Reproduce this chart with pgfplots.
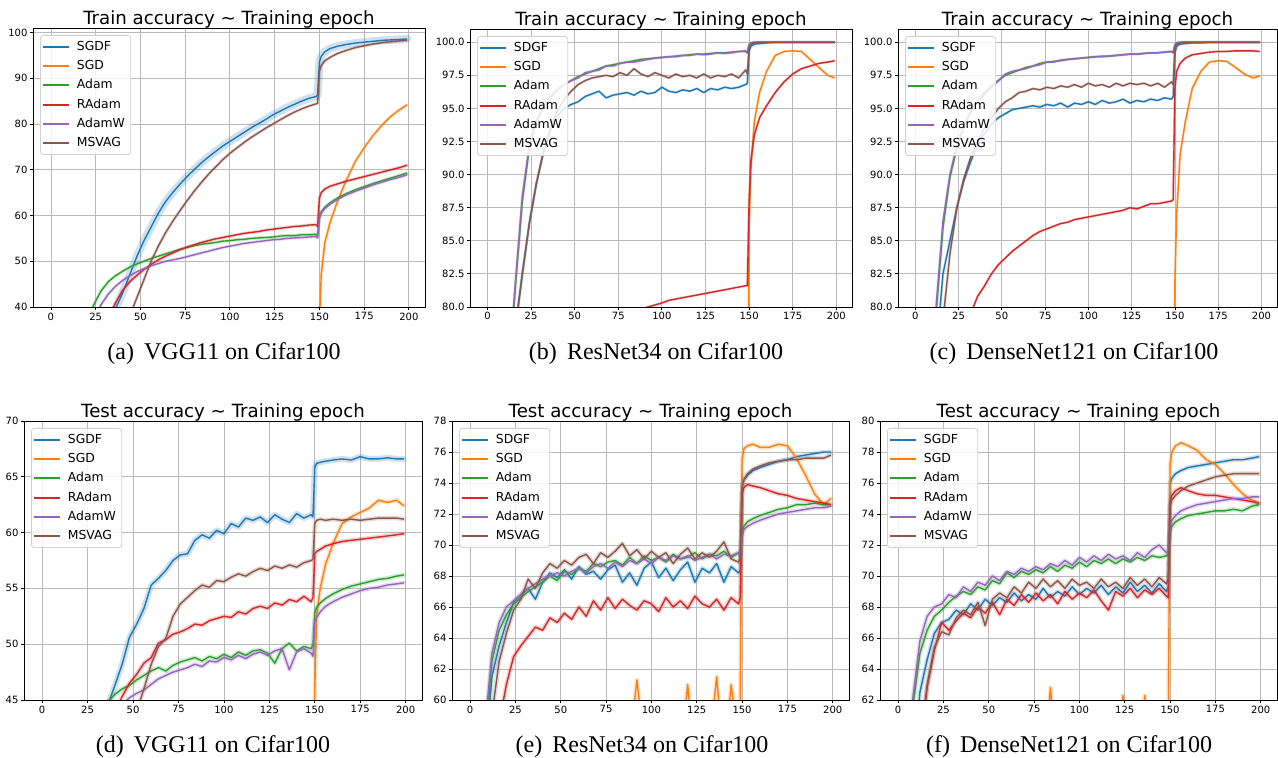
\documentclass[border=0pt]{standalone}
\usepackage{fontspec}
\setmainfont{DejaVu Sans}
\newfontfamily\capfont{Liberation Serif}
\usepackage{pgfplots}
\usepackage{pgfplotstable}
\pgfplotsset{compat=1.18}
\definecolor{cB}{HTML}{1F77B4}
\definecolor{cO}{HTML}{FF7F0E}
\definecolor{cG}{HTML}{2CA02C}
\definecolor{cR}{HTML}{D62728}
\definecolor{cP}{HTML}{9467BD}
\definecolor{cBr}{HTML}{8C564B}

\pgfplotstableread{
x sgdf sgd adam radam adamw msvag
0 5 20 10 10 10 3
4 8 20 15 13 14 6
8 11 20 20 16 18 9
12 14 20 26 19 23 12
16 18 20 31 22 28 15
20 22 20 36.5 26 33 18
24 26 20 40.5 29.5 37.5 21
28 31 20 43.5 33 40.5 24
32 35.5 20 45.5 37.5 42.8 27
36 39.5 20 46.8 40.8 44.5 30
40 43 20 47.8 43.6 45.8 34
44 47 20 48.7 45.5 46.8 38
48 51 20 49.4 46.9 47.7 42
52 54.5 20 50 48.2 48.4 46
56 57.5 20 50.6 49.3 49 50
60 60.5 20 51.1 50.3 49.5 53.3
64 63 20 51.6 51.1 50 56.2
68 65 20 52.1 51.8 50.3 58.7
72 66.8 20 52.6 52.5 50.6 61
76 68.5 20 53.0 53.1 51 63.2
80 70 20 53.4 53.6 51.4 65.3
84 71.5 20 53.7 54.1 51.8 67.2
88 72.8 20 53.9 54.5 52.2 69
92 74 20 54.1 54.9 52.6 70.6
96 75.2 20 54.4 55.2 53 72.2
100 76.2 20 54.5 55.5 53.3 73.6
104 77.2 20 54.7 55.8 53.6 74.8
108 78.2 20 54.8 56.1 53.9 76
112 79.2 20 55 56.3 54.1 77.1
116 80.1 20 55.1 56.5 54.3 78.1
120 81 20 55.2 56.8 54.5 79.1
124 82 20 55.3 57 54.7 80
128 82.8 20 55.5 57.2 54.8 80.9
132 83.6 20 55.6 57.4 55 81.8
136 84.3 20 55.6 57.6 55.1 82.6
140 85 20 55.8 57.7 55.2 83.3
144 85.6 20 55.8 57.9 55.3 83.9
148 86 20 55.9 58 55.4 84.4
149 86.3 20 55.6 57.6 55.1 84.5
150 93.5 36 59.5 63.8 59.3 91.5
151 94.8 47 60.8 65 60.5 92.8
153 95.8 54 61.8 65.8 61.5 93.8
156 96.5 58.5 62.8 66.4 62.5 94.6
160 97 63 63.8 66.9 63.5 95.4
165 97.4 67.7 64.8 67.5 64.5 96.1
170 97.7 71.8 65.6 68 65.3 96.7
175 97.9 74.8 66.3 68.5 66 97.1
180 98.1 77.5 67 69 66.7 97.5
185 98.3 79.8 67.6 69.5 67.3 97.8
190 98.4 81.7 68.2 70 67.9 98
195 98.5 83.2 68.8 70.5 68.4 98.2
199 98.6 84.2 69.3 71 68.9 98.3
}\tblA

\pgfplotstableread{
x sgdf sgd adam radam adamw msvag
0 30 10 30 30 30 30
4 45 10 45 35 46 45
8 60 10 62 40 63 60
12 72 10 74 45 75 72
16 78.5 10 81.5 50 81.8 78.2
20 82.5 10 88 55 88.4 82.5
24 86.3 10 92 58 92.2 86.3
28 89.3 10 94 61 94.1 89.3
32 91.6 10 95 64 95.1 91.7
36 93.3 10 95.8 66.5 95.9 93.5
40 94.4 10 96.4 69 96.4 94.8
44 95 10 96.8 71 96.8 95.7
48 95.3 10 97.1 73 97.1 96.3
52 95.5 10 97.4 74.5 97.3 96.8
56 95.9 10 97.6 75.7 97.7 97.1
60 96.1 10 97.8 76.7 97.8 97.3
64 96.3 10 98 77.5 97.9 97.4
68 95.8 10 98.2 78.1 98.2 97.5
72 96 10 98.3 78.6 98.2 97.4
76 96.1 10 98.4 79 98.4 97.7
80 96.2 10 98.5 79.3 98.5 97.5
84 96.0 10 98.6 79.6 98.5 98
88 96.3 10 98.7 79.8 98.6 97.6
92 96.1 10 98.75 80.0 98.7 97.4
96 96.2 10 98.8 80.15 98.8 97.7
100 96.6 10 98.85 80.3 98.85 97.5
104 96.3 10 98.9 80.5 98.9 97.3
108 96.2 10 98.95 80.6 98.9 97.6
112 96.4 10 99 80.7 99 97.4
116 96.3 10 99.05 80.8 99 97.5
120 96.5 10 99.1 80.9 99.1 97.3
124 96.2 10 99.1 81.0 99.05 97.6
128 96.5 10 99.15 81.1 99.1 97.3
132 96.4 10 99.2 81.2 99.2 97.5
136 96.6 10 99.2 81.3 99.15 97.4
140 96.5 10 99.25 81.4 99.2 97.6
144 96.6 10 99.3 81.5 99.3 97.3
148 96.8 10 99.3 81.6 99.35 97.9
149 96.9 60 99.2 81.6 99.2 97.6
150 99.3 86 99.8 88 99.8 99.5
151 99.7 90.5 99.95 91 99.95 99.85
153 99.85 94 100 93 100 99.95
156 99.9 96.2 100 94.3 100 100
160 99.95 97.8 100 95.2 100 100
165 100 99 100 96.2 100 100
170 100 99.3 100 97 100 100
175 100 99.35 100 97.6 100 100
180 100 99.3 100 98 100 100
185 100 98.7 100 98.2 100 100
190 100 98.1 100 98.4 100 100
195 100 97.5 100 98.5 100 100
199 100 97.3 100 98.6 100 100
}\tblB

\pgfplotstableread{
x sgdf sgd adam radam adamw msvag
0 30 10 30 30 30 30
4 50 10 50 40 52 50
8 65 10 66 50 67 62
12 76.5 10 79.5 58 80 72
16 82.5 10 86 64 86.5 79
20 85 10 89.8 69 90 84
24 87.5 10 92 73 92.2 87.5
28 89.5 10 93.6 76.5 93.7 89.7
32 91 10 94.7 79.5 94.8 91.3
36 92.2 10 95.5 80.8 95.6 92.6
40 93.1 10 96.1 81.6 96.2 93.5
44 93.8 10 96.6 82.5 96.7 94.3
48 94.3 10 97.1 83.2 97.1 95
52 94.6 10 97.5 83.7 97.6 95.5
56 94.9 10 97.7 84.2 97.8 95.8
60 95 10 97.9 84.6 97.9 96.2
64 95.1 10 98.1 85 98 96.3
68 95.2 10 98.2 85.4 98.2 96.5
72 95.1 10 98.4 85.7 98.3 96.4
76 95.3 10 98.5 85.9 98.5 96.6
80 95.2 10 98.55 86.1 98.5 96.5
84 95.4 10 98.6 86.3 98.65 96.7
88 95.1 10 98.7 86.4 98.7 96.6
92 95.4 10 98.75 86.6 98.75 96.8
96 95.3 10 98.8 86.7 98.8 96.6
100 95.5 10 98.85 86.8 98.85 96.9
104 95.3 10 98.9 86.9 98.9 96.7
108 95.6 10 98.9 87 98.95 96.8
112 95.4 10 98.95 87.1 98.95 96.6
116 95.5 10 99 87.2 99 96.9
120 95.7 10 99.05 87.3 99.05 96.7
124 95.4 10 99.1 87.5 99.1 96.9
128 95.6 10 99.1 87.4 99.1 96.8
132 95.5 10 99.15 87.6 99.15 96.9
136 95.7 10 99.2 87.8 99.2 96.7
140 95.6 10 99.2 87.8 99.2 96.9
144 95.8 10 99.25 87.9 99.25 96.6
148 95.7 10 99.3 88 99.3 97
149 95.9 60 99.2 88.1 99.2 96.8
150 99.2 82 99.8 96.5 99.8 99.5
151 99.7 87 99.95 97.8 99.95 99.85
153 99.85 91.5 100 98.4 100 99.95
156 99.9 94 100 98.8 100 100
160 99.95 96.5 100 99.05 100 100
165 99.95 97.8 100 99.15 100 100
170 100 98.5 100 99.25 100 100
175 100 98.6 100 99.3 100 100
180 100 98.55 100 99.3 100 100
185 100 98.1 100 99.35 100 100
190 100 97.6 100 99.35 100 100
195 100 97.3 100 99.35 100 100
199 100 97.45 100 99.3 100 100
}\tblC

\pgfplotstableread{
x sgdf sgd adam radam adamw msvag
0 10 10 10 10 10 10
4 14 10 14 14 14 12
8 18 10 18 18 18 14
12 22 10 22 22 22 16
16 26 10 26 26 26 18
20 30 10 30 30 30 20
24 34 10 34 33 33 23
28 38 10 38 36 36 26
32 42 10 43.5 39 39 29
36 44.5 10 44.8 42 41.5 32
40 46.3 10 45.5 44 43.8 35
44 48.2 10 46 45.3 44.6 38
48 50.6 10 46.3 46.5 45.2 42
52 51.8 10 46.8 47.3 45.6 44
56 53.2 10 47.2 48.3 45.9 46
60 55.3 10 47.6 48.8 46.4 48.2
64 55.9 10 47.9 50.1 46.9 49.8
68 56.6 10 47.6 50.4 47.2 50.5
72 57.5 10 48.1 50.9 47.5 52.5
76 58 10 48.4 51.1 47.7 53.6
80 58.1 10 48.6 51.4 47.9 54.2
84 59.3 10 48.8 51.8 48.2 54.8
88 59.8 10 48.5 51.7 48 55.3
92 59.5 10 48.9 52.1 48.5 55.1
96 60.2 10 48.7 52.3 48.4 55.7
100 59.9 10 49.1 52.5 48.8 55.6
104 60.8 10 48.8 52.4 48.6 56
108 60.5 10 49.3 52.9 49 56.3
112 61.3 10 49 52.7 48.7 56.1
116 61.1 10 49.4 53.2 49.1 56.5
120 61.4 10 49.5 53.4 49.3 56.8
124 60.9 10 49.2 53.2 49 56.6
128 61.6 10 48.3 53.7 49.4 57
132 61.2 10 49.6 53.5 49.6 56.8
136 60.9 10 50.1 54 47.7 57.1
140 61.7 10 49.4 53.8 49.3 56.9
144 61.3 10 49.8 54.3 49.6 57.3
148 61.6 10 49.6 53.8 49.2 57.5
149 61.4 30 50 54.2 48.9 57.6
150 65.8 46 52.8 58.1 52 60.8
151 66.2 52.5 53.3 58.3 52.4 61.1
153 66.3 55 53.7 58.5 52.9 61.2
156 66.4 57.2 54.1 58.8 53.4 61.1
160 66.5 59 54.5 59 53.8 61.2
165 66.6 60.8 54.9 59.2 54.2 61.1
170 66.5 61.4 55.2 59.3 54.5 61.2
175 66.8 61.8 55.4 59.4 54.8 61.1
180 66.6 62.2 55.6 59.5 55 61.2
185 66.6 62.9 55.8 59.6 55.1 61.3
190 66.7 62.7 55.9 59.7 55.3 61.3
195 66.6 62.9 56.1 59.8 55.4 61.3
199 66.6 62.4 56.2 59.9 55.5 61.2
}\tblD

\pgfplotstableread{
x sgdf sgd adam radam adamw msvag
0 40 20 40 35 40 38
4 48 35 48 42 50 45
8 56 45 57 50 58 53
12 61.5 50 62.5 55 63 59
16 63.5 52 64.5 58.5 65 62.5
20 65 53 65.5 61 66 64.3
24 66.3 54 66.2 62.8 66.4 65.8
28 66.8 55 66.6 63.5 66.8 66.5
32 67.2 54 67 64.1 67.2 67.8
36 66.5 56 67.3 64.7 67.5 67.2
40 67.6 55 67.6 64.5 67.8 68.2
44 68.2 54 68 65.3 68 68.8
48 67.9 56 67.7 65 68.2 68.5
52 68.4 55 68.3 65.6 68 69
56 67.8 54 68.1 65.2 68.3 68.7
60 68.6 56 68.5 66 68.5 69.2
64 68.1 55 68.3 65.4 68.2 69.4
68 68.3 57 68.8 66.4 68.6 68.8
72 67.8 55 68.6 65.8 68.8 69.5
76 68.4 58 68.9 66.6 68.5 69.2
80 68.7 55 69 65.9 68.9 69.6
84 67.6 56 68.7 66.5 68.6 70.1
88 68.2 57 69.2 66.1 69 69.3
92 67.4 61.3 68.8 65.8 68.8 69.7
96 68.5 57 69.3 66.4 69.1 69.1
100 68.9 55 69 66.2 68.8 69.6
104 67.9 56 69.2 65.7 69.2 69.2
108 68.5 57 68.9 66.6 69 69.5
112 67.7 55 69.4 66 69.3 68.8
116 68.4 56 69.1 66.4 69.1 69.4
120 68.9 61 69.2 65.9 69.3 69.8
124 67.6 56 69.5 66.7 69 69.1
128 68.5 55 69.1 66.2 69.2 69.5
132 68.2 57 69.4 66 69.4 69.2
136 68.8 61.5 69.3 66.5 69.1 69.6
140 67.6 56 69.6 65.8 69.4 70.2
144 68.6 61 69.2 66.6 69.3 69.1
148 68.2 57 69.5 66.2 69.5 68.9
149 68.4 60 69.3 66.6 69.2 69.2
150 73.8 75.5 70.8 73.3 70.5 73.7
151 74.2 76.2 71.2 73.7 71 74.2
153 74.5 76.4 71.5 73.9 71.2 74.6
156 74.8 76.5 71.7 73.8 71.4 74.9
160 75 76.3 71.9 73.7 71.6 75.1
165 75.2 76.3 72.1 73.5 71.8 75.3
170 75.4 76.5 72.3 73.3 72 75.4
175 75.5 76.4 72.4 73.2 72.1 75.5
180 75.7 75.6 72.6 73 72.2 75.5
185 75.8 74.5 72.6 72.9 72.3 75.6
190 75.9 73.3 72.7 72.8 72.4 75.6
195 76 72.6 72.6 72.7 72.4 75.6
199 76 73 72.6 72.6 72.5 75.8
}\tblE

\pgfplotstableread{
x sgdf sgd adam radam adamw msvag
0 40 20 45 38 45 38
4 50 35 55 46 55 48
8 57 45 61.5 53 62 54
12 62.5 50 65 58.5 65.8 59
16 64.6 52 66.5 62.8 67.4 63
20 66.3 54 67.4 65.2 68 65.4
24 67 55 67.8 67 68.2 66.4
28 67.2 56 68.3 66.5 68.8 66.2
32 67.8 55 68.7 67.1 68.6 67.3
36 67.5 57 69 67.6 69.3 67.8
40 68.2 56 68.8 67.3 69 67.5
44 67.8 55 69.3 68 69.6 68.3
48 68.5 57 69.1 67.6 69.4 66.8
52 68.1 56 69.7 68.3 70 68.5
56 68.6 58 69.5 67.5 69.7 68.9
60 68.3 55 70.2 68.5 70.3 68.6
64 68.9 57 69.9 68.1 70.1 69.3
68 68.4 56 70.3 68.8 70.5 68.9
72 68.8 58 70.1 68.3 70.3 69.6
76 68.5 56 70.4 68.9 70.6 69.2
80 69.2 57 70.2 68.4 70.4 69.8
84 68.6 62.8 70.6 68.8 70.8 69.3
88 69 57 70.3 68.2 70.6 69.7
92 68.7 56 70.7 69 71 69.2
96 69.3 58 70.5 68.5 70.7 69.8
100 68.8 56 70.9 68.9 71.2 69.4
104 69.2 57 70.6 68.6 70.9 69.6
108 68.9 55 71 69.1 71.3 69.2
112 69.4 61.5 70.8 68.4 71 69.8
116 68.8 57 71.1 67.8 71.4 69.3
120 69.3 56 70.8 69 71.1 69.6
124 68.9 62.3 71.1 68.7 71.3 69.2
128 69.6 57 70.9 69.2 71 69.9
132 69 56 71.2 68.6 71.5 69.4
136 69.4 62.3 71 69.1 71.2 69.8
140 68.9 57 71.3 68.8 71.7 69.3
144 69.5 56 71.2 69.2 72 69.9
148 69 58 71.3 68.7 71.5 69.5
149 69.3 60 71.4 68.6 71.6 69.8
150 76 77.2 72.8 74.8 73.2 74.5
151 76.3 78 73.2 75.2 73.6 74.9
153 76.6 78.4 73.5 75.5 73.9 75.2
156 76.8 78.6 73.7 75.7 74.2 75.5
160 77 78.4 73.9 75.5 74.4 75.8
165 77.1 78.1 74 75.3 74.6 76
170 77.2 77.5 74.1 75.2 74.7 76.2
175 77.3 77.2 74.2 75.2 74.8 76.4
180 77.4 76.6 74.2 75.1 74.9 76.5
185 77.5 75.9 74.3 75 75 76.6
190 77.5 75.3 74.2 74.9 75 76.6
195 77.6 74.9 74.5 74.8 75.1 76.6
199 77.7 74.7 74.6 74.7 75.1 76.6
}\tblF

\newcommand{\ser}[5]{%
  \addplot[color=#3, opacity=0.22, line width=#4, line join=round, line cap=round, forget plot] table[x=x,y=#2]{#1};
  \addplot[color=#3, line width=0.7pt, line join=round] table[x=x,y=#2]{#1};
  \addlegendentry{#5}
}
\newcommand{\allser}[4]{%
  \ser{#1}{sgdf}{cB}{#2}{#4}
  \ser{#1}{sgd}{cO}{#3}{SGD}
  \ser{#1}{adam}{cG}{#3}{Adam}
  \ser{#1}{radam}{cR}{#3}{RAdam}
  \ser{#1}{adamw}{cP}{#3}{AdamW}
  \ser{#1}{msvag}{cBr}{#3}{MSVAG}
}

\pgfplotsset{
  myax/.style={
    scale only axis,
    xmin=-10, xmax=209,
    xtick={0,25,...,200},
    tick pos=left,
    grid=major,
    grid style={color=black!27, line width=0.4pt},
    axis line style={line width=0.4pt},
    tick align=outside,
    major tick length=1.6pt,
    tick style={black, line width=0.4pt},
    ticklabel style={font=\fontsize{5}{6}\selectfont},
    xticklabel style={inner sep=1pt},
    yticklabel style={inner sep=1pt},
    /pgf/number format/assume math mode=true,
    title style={at={(0.5,1)}, anchor=base, yshift=-4.3pt, font=\fontsize{9.1}{11}\selectfont},
    legend cell align=left,
    legend image code/.code={\draw[##1, line width=0.95pt] (0pt,0pt) -- (13pt,0pt);},
    legend style={at={(0,1)}, anchor=north west, xshift=3.5pt, yshift=-3.5pt,
      draw=black!18, line width=0.4pt, rounded corners=1.5pt,
      fill=white, fill opacity=0.85, text opacity=1,
      inner sep=1pt, font=\fontsize{6.2}{7.5}\selectfont,
      nodes={inner xsep=1.9pt, inner ysep=1.85pt, text height=4.7pt, text depth=1.2pt, anchor=west},
      column sep=1.4pt},
    every axis legend/.append style={/tikz/every odd column/.append style={}},
  }
}

\begin{document}
\begin{tikzpicture}
\useasboundingbox (0,0) rectangle (639pt,379pt);

% (a)
\begin{axis}[myax, at={(16.5pt,225.5pt)}, anchor=south west, width=196pt, height=139.5pt,
  ymin=40, ymax=101, ytick={40,50,...,100},
  title={Train accuracy \textasciitilde\ Training epoch}]
\allser{\tblA}{4pt}{1.6pt}{SGDF}
\end{axis}

% (b)
\begin{axis}[myax, at={(235pt,225.5pt)}, anchor=south west, width=191pt, height=139pt,
  ymin=80, ymax=101, ytick={80,82.5,...,100},
  yticklabel style={/pgf/number format/.cd, fixed, fixed zerofill, precision=1},
  title={Train accuracy \textasciitilde\ Training epoch}]
\allser{\tblB}{1.3pt}{1.3pt}{SDGF}
\end{axis}

% (c)
\begin{axis}[myax, at={(449pt,225.5pt)}, anchor=south west, width=189.5pt, height=139pt,
  ymin=80, ymax=101, ytick={80,82.5,...,100},
  yticklabel style={/pgf/number format/.cd, fixed, fixed zerofill, precision=1},
  title={Train accuracy \textasciitilde\ Training epoch}]
\allser{\tblC}{1.3pt}{1.3pt}{SGDF}
\end{axis}

% (d)
\begin{axis}[myax, at={(12pt,29pt)}, anchor=south west, width=199pt, height=139.5pt,
  ymin=45, ymax=70, ytick={45,50,...,70},
  title={Test accuracy \textasciitilde\ Training epoch}]
\allser{\tblD}{3pt}{2.2pt}{SGDF}
\end{axis}

% (e)
\begin{axis}[myax, at={(226pt,29pt)}, anchor=south west, width=198.5pt, height=139.5pt,
  ymin=60, ymax=78, ytick={60,62,...,78},
  title={Test accuracy \textasciitilde\ Training epoch}]
\allser{\tblE}{2.2pt}{2.2pt}{SDGF}
\end{axis}

% (f)
\begin{axis}[myax, at={(440pt,29pt)}, anchor=south west, width=198.5pt, height=139.5pt,
  ymin=62, ymax=80, ytick={62,64,...,80},
  title={Test accuracy \textasciitilde\ Training epoch}]
\allser{\tblF}{2.2pt}{2.2pt}{SGDF}
\end{axis}

\tikzset{capnode/.style={anchor=base, inner sep=0pt, font=\capfont\fontsize{12}{14}\selectfont}}
\node[capnode] at (112pt,199pt) {(a)\hskip0.42em VGG11 on Cifar100};
\node[capnode] at (328pt,199pt) {(b)\hskip0.42em ResNet34 on Cifar100};
\node[capnode] at (537pt,199pt) {(c)\hskip0.42em DenseNet121 on Cifar100};
\node[capnode] at (106.5pt,2.7pt) {(d)\hskip0.42em VGG11 on Cifar100};
\node[capnode] at (321pt,2.7pt) {(e)\hskip0.42em ResNet34 on Cifar100};
\node[capnode] at (534.5pt,2.7pt) {(f)\hskip0.42em DenseNet121 on Cifar100};
\end{tikzpicture}
\end{document}
